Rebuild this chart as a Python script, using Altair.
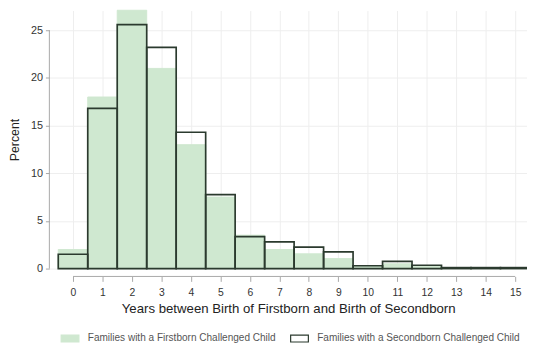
import altair as alt
import pandas as pd

years = list(range(16))
firstborn = [2.0, 18.0, 27.1, 21.0, 13.0, 7.5, 3.5, 2.0, 1.55, 1.05, 0.3, 0.5, 0.25, 0.05, 0.05, 0.05]
secondborn = [1.5, 16.8, 25.6, 23.2, 14.3, 7.75, 3.35, 2.8, 2.25, 1.75, 0.3, 0.75, 0.35, 0.1, 0.1, 0.1]
groups = ["Families with a Firstborn Challenged Child", "Families with a Secondborn Challenged Child"]
y_ticks = [0, 5, 10, 15, 20, 25]
x_ticks = years

rows = []
for yr, v in zip(years, firstborn):
    rows.append({"year": yr, "pct": v, "group": groups[0]})
for yr, v in zip(years, secondborn):
    rows.append({"year": yr, "pct": v, "group": groups[1]})
df = pd.DataFrame(rows)

FONT = "Liberation Sans"
GREEN = "#cfe8d0"
DARK = "#2b3a2e"
AXIS_GRAY = "#a8a8a8"

xscale = alt.Scale(domain=[-0.802, 15.40], nice=False, zero=False)
yscale = alt.Scale(domain=[0, 27.07], nice=False, zero=True)

fill_scale = alt.Scale(domain=groups, range=[GREEN, "transparent"])
stroke_scale = alt.Scale(domain=groups, range=[GREEN, DARK])

legend = alt.Legend(
    title=None, orient="none", legendX=11, legendY=323, direction="horizontal",
    columns=2, symbolType="M-1,-0.389H1V0.389H-1Z", symbolSize=324,
    symbolStrokeWidth=1.2, labelFont=FONT, labelFontSize=10.2, labelColor="#555555",
    labelLimit=400, labelOffset=8, columnPadding=12,
)

base = alt.Chart(df).transform_calculate(
    lo="datum.year - 0.5", hi="datum.year + 0.5", zero="0"
)

x_axis = alt.Axis(
    values=x_ticks, domain=False, offset=8, tickSize=5, tickColor=AXIS_GRAY,
    labelFont=FONT, labelFontSize=10.5, labelColor="#333333", labelPadding=6,
    title="Years between Birth of Firstborn and Birth of Secondborn",
    titleFont=FONT, titleFontSize=13.4, titleFontWeight="normal", titleColor="#222222",
    titlePadding=4, grid=True, gridColor="#eeeeee", labelFlush=False, labelOverlap=False,
)
y_axis = alt.Axis(
    values=y_ticks, domain=False, tickSize=4, tickColor=AXIS_GRAY,
    labelFont=FONT, labelFontSize=11, labelColor="#333333", labelPadding=3,
    title="Percent", titleFont=FONT, titleFontSize=12.5, titleFontWeight="normal",
    titleColor="#222222", titlePadding=9, grid=True, gridColor="#eeeeee",
    labelOverlap=False,
)

bars_first = base.transform_filter(alt.datum.group == groups[0]).mark_bar(
    strokeWidth=1
).encode(
    x=alt.X("lo:Q", scale=xscale, axis=x_axis),
    x2="hi:Q",
    y=alt.Y("pct:Q", scale=yscale, axis=y_axis),
    y2="zero:Q",
    fill=alt.Fill("group:N", scale=fill_scale, legend=legend),
    stroke=alt.Stroke("group:N", scale=stroke_scale, legend=legend),
)

bars_second = base.transform_filter(alt.datum.group == groups[1]).mark_bar(
    strokeWidth=1.7
).encode(
    x=alt.X("lo:Q", scale=xscale, axis=x_axis),
    x2="hi:Q",
    y=alt.Y("pct:Q", scale=yscale, axis=y_axis),
    y2="zero:Q",
    fill=alt.Fill("group:N", scale=fill_scale, legend=legend),
    stroke=alt.Stroke("group:N", scale=stroke_scale, legend=legend),
)

xline_df = pd.DataFrame({"a": [min(x_ticks)], "b": [max(x_ticks)]})
x_line = alt.Chart(xline_df).mark_rule(color=AXIS_GRAY, strokeWidth=1).encode(
    x=alt.X("a:Q", scale=xscale, axis=x_axis), x2="b:Q", y=alt.value(270)
)
yline_df = pd.DataFrame({"a": [min(y_ticks)], "b": [max(y_ticks)]})
y_line = alt.Chart(yline_df).mark_rule(color=AXIS_GRAY, strokeWidth=1).encode(
    y=alt.Y("a:Q", scale=yscale, axis=y_axis), y2="b:Q", x=alt.value(0)
)

chart = alt.layer(bars_first, bars_second, x_line, y_line).properties(
    width=485, height=262,
    autosize=alt.AutoSizeParams(type="none"),
    padding={"left": 42, "top": 0, "right": 0, "bottom": 74},
    background="white",
).configure_view(stroke=None).configure_axisX(labelOverlap=False)

chart.save("out.html", embed_options={"renderer": "svg", "actions": False})
